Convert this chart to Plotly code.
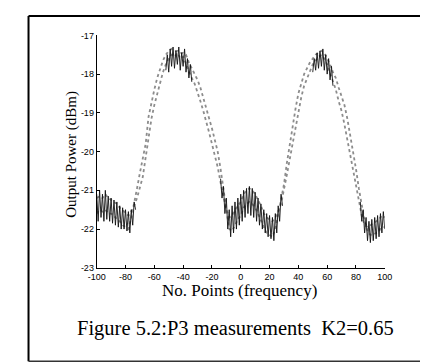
import plotly.graph_objects as go

# x positions (No. Points) for the gray traces
x_pts = list(range(-100, 101, 2))

# gray trace, inner strand (dBm)
gray_inner = [
    -21.2, -21.15, -21.2, -21.1, -21.2, -21.25, -21.3, -21.35, -21.45, -21.5,
    -21.6, -21.65, -21.55, -21.4, -21.2, -20.95, -20.65, -20.15, -19.6, -19.15,
    -18.8, -18.5, -18.2, -17.95, -17.75, -17.6, -17.5, -17.55, -17.45, -17.6,
    -17.55, -17.75, -17.9, -18.1, -18.25, -18.45, -18.7, -18.95, -19.2, -19.5,
    -19.8, -20.1, -20.4, -20.8, -21.2, -21.5, -21.7, -21.65, -21.5, -21.4,
    -21.3, -21.1, -21.0, -20.95, -21.0, -21.1, -21.25, -21.4, -21.6, -21.7,
    -21.75, -21.8, -21.7, -21.55, -21.35, -21.0, -20.6, -20.2, -19.8, -19.35,
    -18.95, -18.6, -18.3, -18.1, -17.9, -17.75, -17.65, -17.55, -17.5, -17.6,
    -17.75, -17.95, -18.15, -18.4, -18.7, -18.95, -19.3, -19.7, -20.1, -20.5,
    -20.95, -21.35, -21.65, -21.9, -21.95, -21.9, -21.85, -21.8, -21.75, -21.65,
    -21.7,
]

# gray trace, outer strand (dBm)
gray_outer = [
    -21.6, -21.5, -21.55, -21.5, -21.6, -21.6, -21.65, -21.75, -21.8, -21.9,
    -21.95, -22.0, -21.7, -21.35, -20.95, -20.55, -20.2, -19.8, -19.1, -18.7,
    -18.4, -18.1, -17.85, -17.65, -17.5, -17.4, -17.35, -17.4, -17.4, -17.45,
    -17.45, -17.5, -17.7, -17.85, -18.0, -18.15, -18.35, -18.6, -18.85, -19.1,
    -19.4, -19.7, -20.0, -20.45, -20.95, -21.5, -22.0, -22.05, -21.9, -21.75,
    -21.65, -21.45, -21.35, -21.3, -21.35, -21.45, -21.6, -21.8, -21.95, -22.1,
    -22.15, -22.2, -22.0, -21.6, -21.3, -20.85, -20.3, -19.8, -19.3, -18.9,
    -18.5, -18.25, -18.0, -17.85, -17.7, -17.6, -17.5, -17.45, -17.4, -17.45,
    -17.6, -17.75, -17.95, -18.1, -18.35, -18.55, -18.8, -19.15, -19.55, -20.0,
    -20.45, -20.95, -21.4, -21.8, -22.05, -22.15, -22.15, -22.1, -22.05, -21.95,
    -21.95,
]

# black trace segments (x, dBm); None marks a gap
black_x = (
    list(range(-100, -72)) + [None]
    + list(range(-52, -33)) + [None]
    + list(range(-14, 30)) + [None]
    + list(range(50, 65)) + [None]
    + list(range(83, 101))
)
black_y = [
    # first trough
    -21.1, -21.8, -21.0, -21.7, -21.1, -21.8, -21.0, -21.75, -21.15, -21.8,
    -21.2, -21.85, -21.25, -21.9, -21.3, -21.95, -21.4, -22.0, -21.45, -22.0,
    -21.5, -22.05, -21.55, -22.1, -21.5, -21.9, -21.3, -21.5,
    None,
    # first peak
    -17.9, -17.5, -17.95, -17.35, -17.8, -17.3, -17.85, -17.4, -17.75, -17.3,
    -17.9, -17.45, -17.8, -17.35, -17.95, -17.6, -18.1, -17.75, -18.2,
    None,
    # middle trough
    -20.7, -21.2, -20.9, -21.6, -21.2, -22.0, -21.5, -22.2, -21.4, -22.1,
    -21.3, -22.0, -21.2, -21.9, -21.1, -21.8, -21.0, -21.7, -20.95, -21.6,
    -20.9, -21.65, -20.95, -21.7, -21.05, -21.8, -21.2, -21.9, -21.35, -22.0,
    -21.5, -22.1, -21.6, -22.2, -21.65, -22.25, -21.7, -22.3, -21.6, -22.1,
    -21.4, -21.8, -21.1, -21.4,
    None,
    # second peak
    -17.95, -17.6, -17.9, -17.45, -17.85, -17.4, -17.8, -17.35, -17.9, -17.5,
    -18.0, -17.6, -18.15, -17.8, -18.3,
    None,
    # last trough
    -21.3, -21.8, -21.5, -22.1, -21.7, -22.3, -21.8, -22.35, -21.75, -22.3,
    -21.7, -22.25, -21.65, -22.2, -21.6, -22.1, -21.55, -22.0,
]

x_ticks = list(range(-100, 101, 20))
y_ticks = [-23, -22, -21, -20, -19, -18, -17]

W, H = 428, 364
def px(x):
    return x / W
def py(y):
    return 1 - y / H

fig = go.Figure()
fig.add_trace(go.Scatter(x=x_pts, y=gray_outer, mode="lines",
                         line=dict(color="#8c8c8c", width=1.8, dash="dot"), hoverinfo="skip"))
fig.add_trace(go.Scatter(x=x_pts, y=gray_inner, mode="lines",
                         line=dict(color="#8c8c8c", width=1.8, dash="dot"), hoverinfo="skip"))
fig.add_trace(go.Scatter(x=black_x, y=black_y, mode="lines", connectgaps=False,
                         line=dict(color="#111111", width=0.9), hoverinfo="skip"))

tickfont = dict(family="Arial, Liberation Sans", size=9, color="black")
fig.update_layout(
    width=W, height=H,
    margin=dict(l=0, r=0, t=0, b=0),
    paper_bgcolor="white", plot_bgcolor="white",
    showlegend=False,
    separators=".,",
    xaxis=dict(domain=[px(83), px(383)], range=[-100, 100], tickvals=x_ticks,
               ticktext=[str(v) for v in x_ticks],
               ticks="inside", ticklen=3, tickcolor="black", showline=True,
               linecolor="black", linewidth=1, showgrid=False, zeroline=False,
               tickfont=tickfont, mirror=False),
    yaxis=dict(domain=[py(262), py(23)], range=[-23, -17], tickvals=y_ticks,
               ticktext=[str(v) for v in y_ticks],
               ticks="inside", ticklen=3, tickcolor="black", showline=True,
               linecolor="black", linewidth=1, showgrid=False, zeroline=False,
               tickfont=tickfont, mirror=False),
    annotations=[
        dict(text="Output Power (dBm)", x=px(45), y=py(145), xref="paper", yref="paper",
             textangle=-90, showarrow=False,
             font=dict(family="Liberation Serif, Times New Roman", size=15, color="black")),
        dict(text="No. Points (frequency)", x=px(232), y=py(297), xref="paper", yref="paper",
             showarrow=False,
             font=dict(family="Liberation Serif, Times New Roman", size=17, color="black")),
        dict(text="Figure 5.2:P3 measurements&nbsp;&nbsp;K2=0.65", x=px(228), y=py(338),
             xref="paper", yref="paper", showarrow=False,
             font=dict(family="Liberation Serif, Times New Roman", size=20.5, color="black")),
    ],
    shapes=[
        dict(type="line", xref="paper", yref="paper", x0=px(12), x1=px(12), y0=py(3), y1=py(358),
             line=dict(color="black", width=2)),
        dict(type="line", xref="paper", yref="paper", x0=px(12), x1=1, y0=py(3), y1=py(3),
             line=dict(color="black", width=2)),
        dict(type="line", xref="paper", yref="paper", x0=px(12), x1=1, y0=py(358), y1=py(358),
             line=dict(color="#333333", width=1.5)),
    ],
)

fig.write_html("out.html")
